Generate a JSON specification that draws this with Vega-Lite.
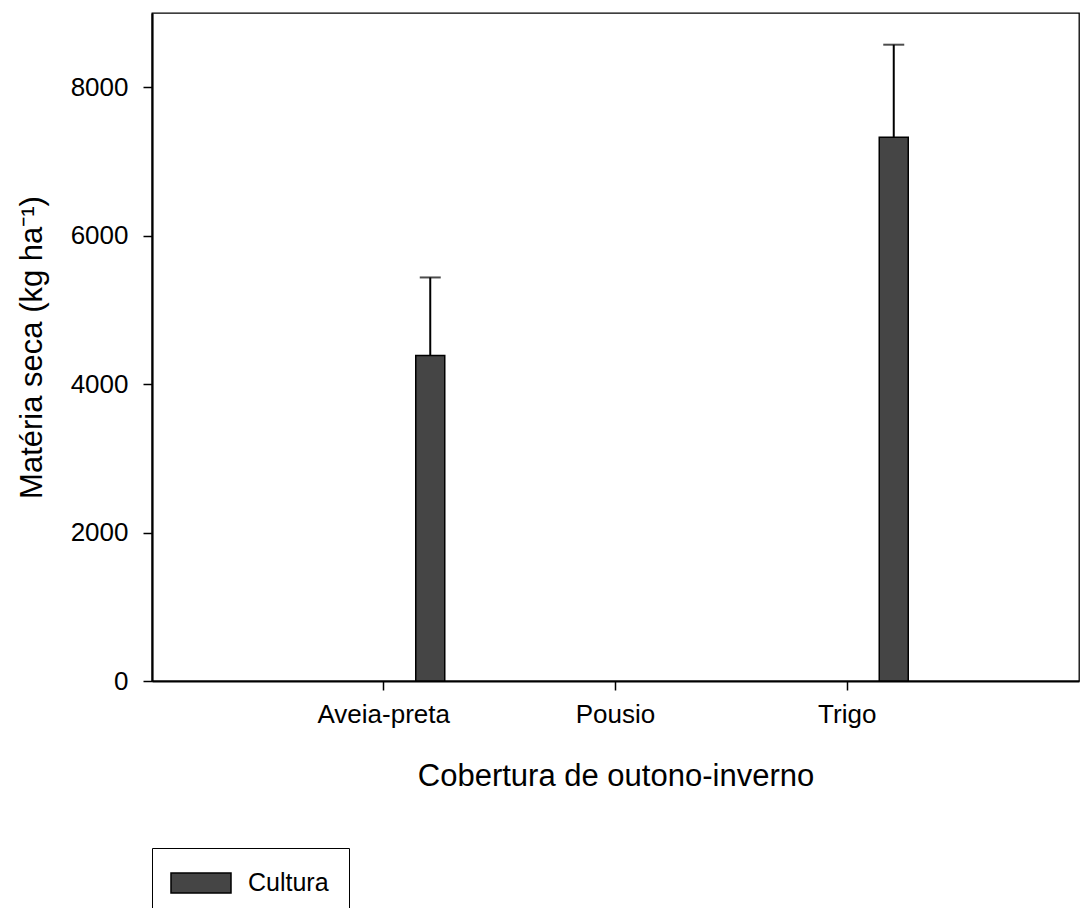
{
  "$schema": "https://vega.github.io/schema/vega-lite/v6.json",
  "width": 927,
  "height": 668,
  "autosize": "none",
  "padding": {"left": 152, "top": 13, "right": 2, "bottom": 227},
  "config": {
    "font": "Liberation Sans",
    "view": {"stroke": "black", "strokeWidth": 1.3},
    "axis": {
      "grid": false,
      "domainColor": "black",
      "domainWidth": 2.2,
      "tickColor": "black",
      "tickWidth": 1.5,
      "tickSize": 9,
      "labelColor": "black",
      "labelFontSize": 26,
      "titleColor": "black",
      "titleFontSize": 31,
      "titleFontWeight": "normal"
    }
  },
  "data": {
    "values": [
      {"cobertura": "Aveia-preta", "serie": "Cultura", "media": 4385, "limite_superior": 5437},
      {"cobertura": "Trigo", "serie": "Cultura", "media": 7325, "limite_superior": 8573}
    ]
  },
  "encoding": {
    "x": {
      "field": "cobertura",
      "type": "nominal",
      "scale": {"domain": ["Aveia-preta", "Pousio", "Trigo"], "paddingInner": 0, "paddingOuter": 0.5},
      "axis": {"labelAngle": 0, "labelPadding": 11, "title": "Cobertura de outono-inverno", "titlePadding": 34}
    }
  },
  "layer": [
    {
      "mark": {"type": "bar", "width": 29, "xOffset": 46.5, "stroke": "black", "strokeWidth": 1.5},
      "encoding": {
        "y": {
          "field": "media",
          "type": "quantitative",
          "scale": {"domain": [0, 9000], "nice": false},
          "axis": {
            "values": [0, 2000, 4000, 6000, 8000],
            "format": "d",
            "labelPadding": 15,
            "title": "Matéria seca (kg ha⁻¹)",
            "titlePadding": 22
          }
        },
        "color": {
          "field": "serie",
          "type": "nominal",
          "scale": {"domain": ["Cultura"], "range": ["#454545"]},
          "legend": {
            "orient": "none",
            "legendX": 0,
            "legendY": 835,
            "title": null,
            "strokeColor": "black",
            "fillColor": "white",
            "padding": 20,
            "symbolType": "M-2.143,-0.714H2.143V0.714H-2.143Z",
            "symbolSize": 784,
            "symbolOffset": 14,
            "symbolStrokeColor": "black",
            "symbolStrokeWidth": 1.5,
            "symbolOpacity": 1,
            "labelOffset": 32,
            "labelFontSize": 25,
            "labelColor": "black"
          }
        }
      }
    },
    {
      "mark": {"type": "rule", "xOffset": 46.5, "color": "black", "strokeWidth": 2},
      "encoding": {
        "y": {"field": "media", "type": "quantitative"},
        "y2": {"field": "limite_superior"}
      }
    },
    {
      "mark": {"type": "tick", "xOffset": 46.5, "color": "black", "size": 21, "thickness": 2},
      "encoding": {
        "y": {"field": "limite_superior", "type": "quantitative"}
      }
    }
  ]
}
